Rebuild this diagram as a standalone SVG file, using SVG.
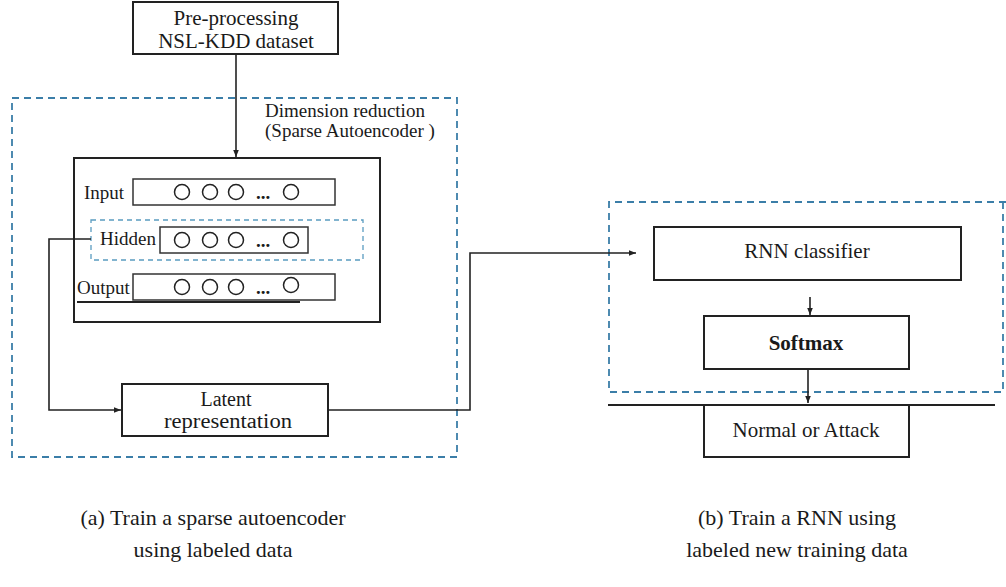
<svg xmlns="http://www.w3.org/2000/svg" width="1006" height="587" viewBox="0 0 1006 587">
<style>
.box{fill:#fff;stroke:#222;stroke-width:2}
.thin{fill:none;stroke:#333;stroke-width:1.5}
.dash{fill:none;stroke:#3b7ea8;stroke-width:1.8;stroke-dasharray:7,5}
.dash2{fill:none;stroke:#5a9cc0;stroke-width:1.3;stroke-dasharray:5,4}
.conn{fill:none;stroke:#222;stroke-width:1.6}
.t{font-family:"Liberation Serif",serif;fill:#1a1a1a}
.c{fill:none;stroke:#222;stroke-width:1.5}
</style>
<defs>
<marker id="arr" viewBox="0 0 10 10" refX="10" refY="5" markerWidth="7" markerHeight="7" markerUnits="userSpaceOnUse" orient="auto">
<path d="M0,1 L10,5 L0,9 Z" fill="#222"/>
</marker>
</defs>
<rect width="1006" height="587" fill="#fff"/>

<g id="group-a">
<rect class="dash" x="12" y="98" width="445" height="359"/>
<text class="t" x="265" y="117" font-size="19">Dimension reduction</text>
<text class="t" x="265" y="137" font-size="19">(Sparse Autoencoder )</text>
</g>

<g id="group-b">
<path class="dash" d="M1006,202 L609,202 L609,392 L1006,392"/>
<line x1="1003" y1="202" x2="1003" y2="392" class="dash"/>
</g>

<g id="preprocess">
<rect class="box" x="133" y="2" width="205" height="52"/>
<text class="t" x="236" y="25" font-size="21" text-anchor="middle">Pre-processing</text>
<text class="t" x="236" y="48" font-size="21" text-anchor="middle">NSL-KDD dataset</text>
</g>

<g id="autoencoder">
<rect class="box" x="74" y="158" width="306" height="164"/>
<text class="t" x="84" y="199" font-size="19">Input</text>
<rect class="thin" x="133" y="179" width="202" height="26"/>
<circle class="c" cx="182" cy="192" r="7.5"/>
<circle class="c" cx="210" cy="192" r="7.5"/>
<circle class="c" cx="236" cy="192" r="7.5"/>
<text class="t" x="263" y="199" font-size="19" font-weight="bold" text-anchor="middle">...</text>
<circle class="c" cx="291" cy="192" r="7.5"/>

<rect class="dash2" x="91" y="220" width="272" height="40"/>
<text class="t" x="100" y="245" font-size="19">Hidden</text>
<rect class="thin" x="160" y="227" width="148" height="26"/>
<circle class="c" cx="182" cy="240" r="7.5"/>
<circle class="c" cx="210" cy="240" r="7.5"/>
<circle class="c" cx="236" cy="240" r="7.5"/>
<text class="t" x="263" y="247" font-size="19" font-weight="bold" text-anchor="middle">...</text>
<circle class="c" cx="291" cy="240" r="7.5"/>

<text class="t" x="77" y="294" font-size="19">Output</text>
<rect class="thin" x="133" y="274" width="202" height="26"/>
<line x1="77" y1="302" x2="300" y2="302" stroke="#222" stroke-width="2"/>
<circle class="c" cx="182" cy="287" r="7.5"/>
<circle class="c" cx="210" cy="287" r="7.5"/>
<circle class="c" cx="236" cy="287" r="7.5"/>
<text class="t" x="263" y="294" font-size="19" font-weight="bold" text-anchor="middle">...</text>
<circle class="c" cx="291" cy="285" r="7.5"/>
</g>

<g id="latent">
<rect class="box" x="122" y="384" width="206" height="52"/>
<text class="t" x="226" y="406" font-size="20" text-anchor="middle">Latent</text>
<text class="t" x="228" y="428" font-size="20" text-anchor="middle" textLength="128" lengthAdjust="spacingAndGlyphs">representation</text>
</g>

<g id="rnn">
<rect class="box" x="654" y="227" width="307" height="53"/>
<text class="t" x="807" y="258" font-size="21" text-anchor="middle">RNN classifier</text>
</g>

<g id="softmax">
<rect class="box" x="704" y="316" width="205" height="53"/>
<text class="t" x="806" y="350" font-size="21" font-weight="bold" text-anchor="middle">Softmax</text>
</g>

<g id="output">
<rect class="box" x="704" y="405" width="205" height="52"/>
<text class="t" x="806" y="437" font-size="21" text-anchor="middle">Normal or Attack</text>
</g>

<g id="connectors">
<line class="conn" x1="236" y1="54" x2="236" y2="157" marker-end="url(#arr)"/>
<polyline class="conn" points="91,239 49,239 49,410 121,410" marker-end="url(#arr)"/>
<polyline class="conn" points="328,410 470,410 470,253 636,253" marker-end="url(#arr)"/>
<line class="conn" x1="810" y1="297" x2="810" y2="315" marker-end="url(#arr)"/>
<line class="conn" x1="808" y1="369" x2="808" y2="403" marker-end="url(#arr)"/>
<line x1="608" y1="405" x2="995" y2="405" stroke="#222" stroke-width="2"/>
</g>

<g id="captions">
<text class="t" x="213" y="525" font-size="22" text-anchor="middle">(a) Train a sparse autoencoder</text>
<text class="t" x="213" y="557" font-size="22" text-anchor="middle">using labeled data</text>
<text class="t" x="797" y="525" font-size="22" text-anchor="middle">(b) Train a RNN using</text>
<text class="t" x="797" y="557" font-size="22" text-anchor="middle">labeled new training data</text>
</g>
</svg>
